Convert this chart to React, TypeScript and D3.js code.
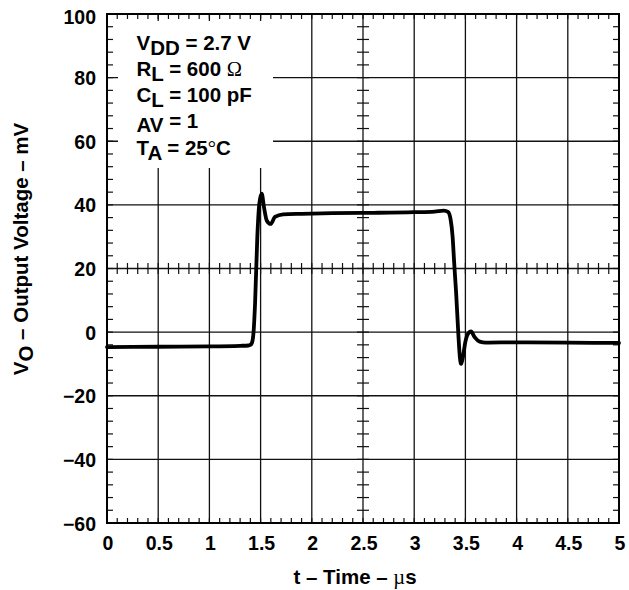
import React from "react";
import * as d3 from "d3";

const timeUs: number[] = [0, 0.5, 1.0, 1.3, 1.38, 1.40, 1.415, 1.43, 1.446, 1.468, 1.488, 1.511, 1.533, 1.56, 1.598, 1.64, 1.72, 1.9, 2.2, 2.6, 3.0, 3.2, 3.29, 3.33, 3.355, 3.375, 3.39, 3.41, 3.43, 3.445, 3.458, 3.475, 3.5, 3.53, 3.555, 3.59, 3.64, 3.7, 4.0, 4.5, 5.0];
const voutMv: number[] = [-4.7, -4.6, -4.5, -4.3, -4.2, -4.0, -3.4, -0.5, 9, 30, 40.5, 43.5, 39.3, 35.1, 34.0, 36.2, 37.0, 37.2, 37.4, 37.5, 37.7, 37.9, 38.2, 37.8, 35.5, 30, 22, 12, 0, -7.5, -10, -8, -3, -0.3, 0.2, -1.6, -3.0, -3.3, -3.2, -3.3, -3.4];

const xTicks: number[] = [0, 0.5, 1, 1.5, 2, 2.5, 3, 3.5, 4, 4.5, 5];
const xTickLabels: string[] = ["0", "0.5", "1", "1.5", "2", "2.5", "3", "3.5", "4", "4.5", "5"];
const yTicks: number[] = [-60, -40, -20, 0, 20, 40, 60, 80, 100];
const yTickLabels: string[] = ["\u221260", "\u221240", "\u221220", "0", "20", "40", "60", "80", "100"];

const FONT = "'Liberation Sans', Arial, Helvetica, sans-serif";
const SERIF = "'Liberation Serif', 'Times New Roman', serif";

export default function App() {
  const W = 629, H = 590;
  const L = 107, R = 619, T = 14, B = 523;
  const x = d3.scaleLinear().domain([0, 5]).range([L, R]);
  const y = d3.scaleLinear().domain([-60, 100]).range([B, T]);

  const minorX = d3.range(0, 5.0001, 0.1).map((v) => +v.toFixed(2));
  const minorY = d3.range(-60, 100.001, 4);

  const line = d3
    .line<number>()
    .x((_, i) => x(timeUs[i]))
    .y((d) => y(d))
    .curve(d3.curveMonotoneX);

  const boxX0 = 118, boxX1 = 273, boxY0 = 21, boxY1 = 168;
  const tx = 136.5;
  const fs = 20.5;

  return (
    <svg width={W} height={H} style={{ position: "absolute", left: 0, top: 0 }} fontFamily={FONT}>
      <rect x={0} y={0} width={W} height={H} fill="#fff" />
      {/* grid */}
      {xTicks.slice(1, -1).map((t) => (
        <line key={"gx" + t} x1={x(t)} x2={x(t)} y1={T} y2={B} stroke="#111" strokeWidth={1.3} />
      ))}
      {yTicks.slice(1, -1).map((t) => (
        <line key={"gy" + t} x1={L} x2={R} y1={y(t)} y2={y(t)} stroke="#111" strokeWidth={1.3} />
      ))}
      {/* minor ticks on frame and centre axes */}
      {minorX.map((t) => (
        <g key={"mx" + t}>
          <line x1={x(t)} x2={x(t)} y1={T} y2={T + 5} stroke="#111" strokeWidth={1.2} />
          <line x1={x(t)} x2={x(t)} y1={B} y2={B - 5} stroke="#111" strokeWidth={1.2} />
          <line x1={x(t)} x2={x(t)} y1={y(20) - 5.5} y2={y(20) + 5.5} stroke="#111" strokeWidth={1.2} />
        </g>
      ))}
      {minorY.map((t) => (
        <g key={"my" + t}>
          <line x1={L} x2={L + 6} y1={y(t)} y2={y(t)} stroke="#111" strokeWidth={1.2} />
          <line x1={R} x2={R - 6} y1={y(t)} y2={y(t)} stroke="#111" strokeWidth={1.2} />
          <line x1={x(2.5) - 6} x2={x(2.5) + 6} y1={y(t)} y2={y(t)} stroke="#111" strokeWidth={1.2} />
        </g>
      ))}
      {/* annotation box */}
      <rect x={boxX0} y={boxY0} width={boxX1 - boxX0} height={boxY1 - boxY0} fill="#fff" />
      <g fontWeight="bold" fontSize={fs} fill="#000">
        <text x={tx} y={50}>
          V<tspan dy={5}>DD</tspan>
          <tspan dy={-5}> = 2.7 V</tspan>
        </text>
        <text x={tx} y={76}>
          R<tspan dy={5}>L</tspan>
          <tspan dy={-5}> = 600 </tspan>
          <tspan fontWeight="normal" fontFamily={SERIF}>{"\u03A9"}</tspan>
        </text>
        <text x={tx} y={102}>
          C<tspan dy={5}>L</tspan>
          <tspan dy={-5}> = 100 pF</tspan>
        </text>
        <text x={tx} y={132}>
          AV<tspan dy={-4}> = 1</tspan>
        </text>
        <text x={tx} y={155}>
          T<tspan dy={5}>A</tspan>
          <tspan dy={-5}> = 25</tspan>
          <tspan fontWeight="normal" fontFamily={SERIF}>{"\u00B0"}</tspan>
          <tspan>C</tspan>
        </text>
      </g>
      {/* frame */}
      <rect x={L} y={T} width={R - L} height={B - T} fill="none" stroke="#000" strokeWidth={2} />
      {/* curve */}
      <path d={line(voutMv) || ""} fill="none" stroke="#000" strokeWidth={3.8} strokeLinejoin="round" strokeLinecap="round" />
      {/* tick labels */}
      <g fontWeight="bold" fontSize={19.5} fill="#000">
        {yTicks.map((t, i) => (
          <text key={"yl" + t} x={96} y={t === 100 ? 24 : y(t) + 7.5} textAnchor="end">
            {yTickLabels[i]}
          </text>
        ))}
        {xTicks.map((t, i) => (
          <text key={"xl" + t} x={x(t) + 1} y={550} textAnchor="middle">
            {xTickLabels[i]}
          </text>
        ))}
      </g>
      {/* axis titles */}
      <text x={355} y={584} textAnchor="middle" fontWeight="bold" fontSize={20.5}>
        t {"\u2013"} Time {"\u2013"} <tspan fontWeight="normal" fontFamily={SERIF}>{"\u00B5"}</tspan>s
      </text>
      <text
        transform={`translate(28, 249) rotate(-90)`}
        textAnchor="middle"
        fontWeight="bold"
        fontSize={20.5}
      >
        V<tspan dy={5}>O</tspan>
        <tspan dy={-5}> {"\u2013"} Output Voltage {"\u2013"} mV</tspan>
      </text>
    </svg>
  );
}
